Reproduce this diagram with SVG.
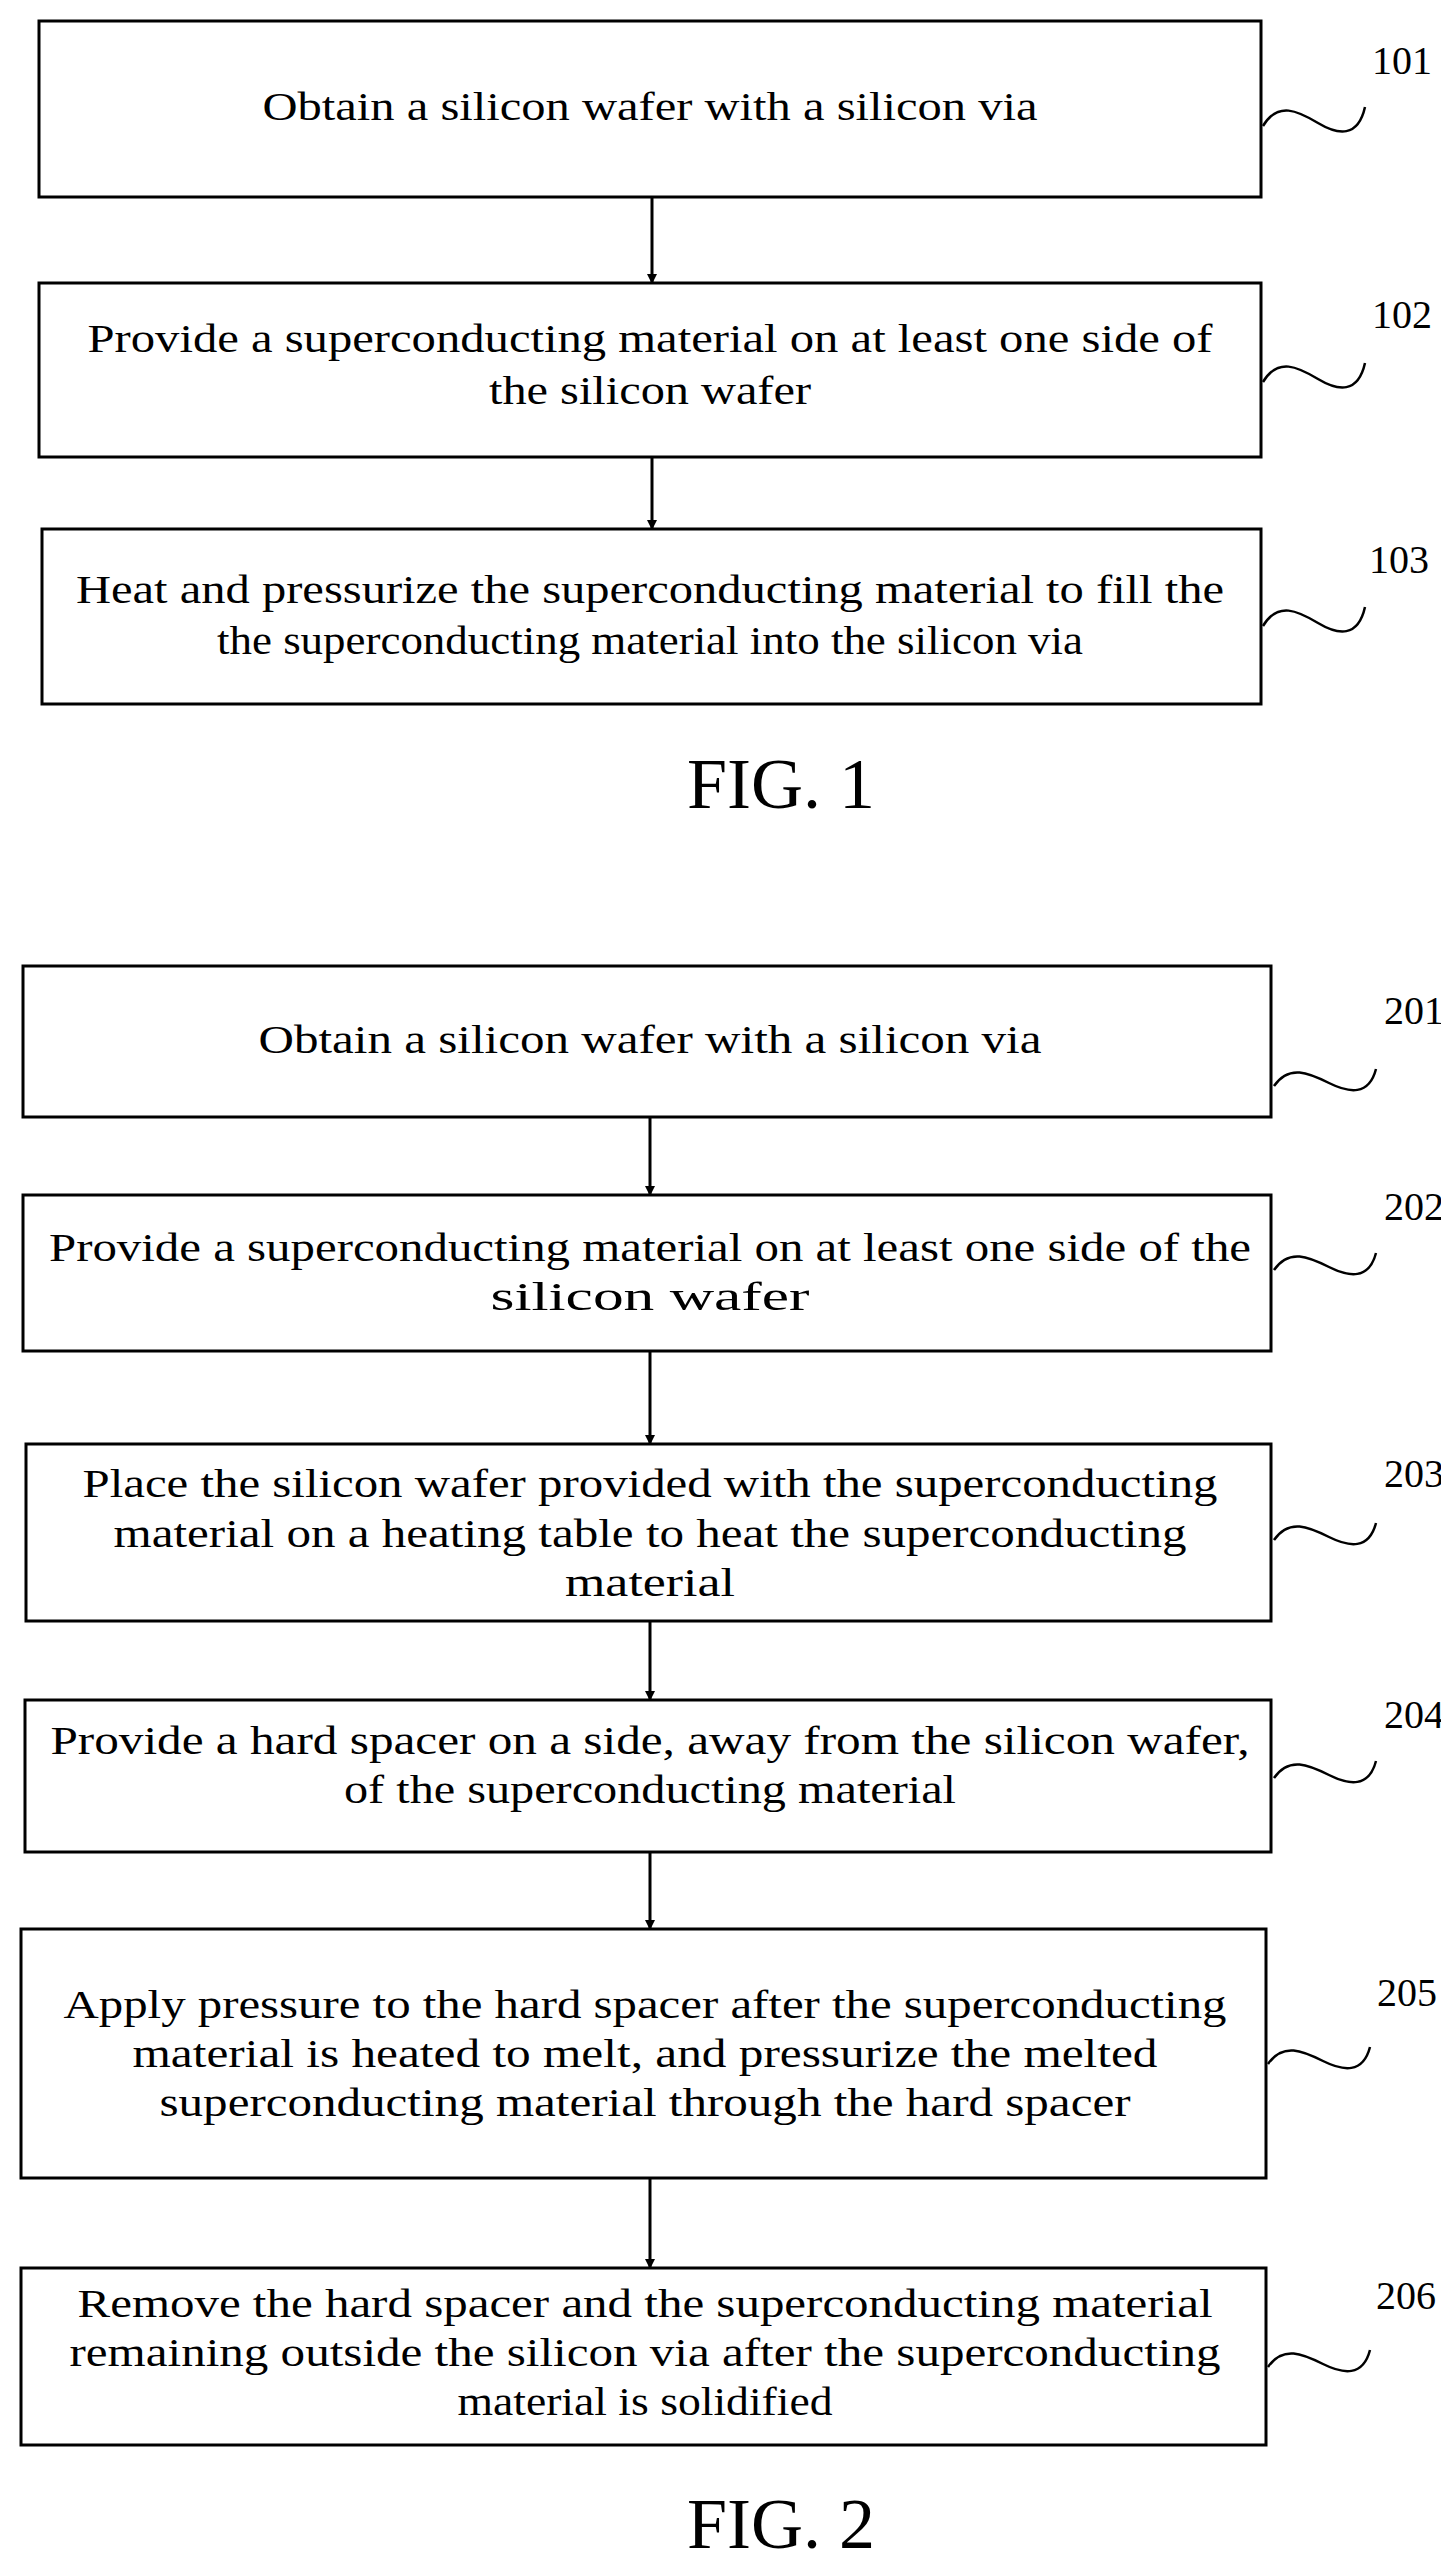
<svg xmlns="http://www.w3.org/2000/svg" width="1441" height="2570" viewBox="0 0 1441 2570">
<style>
.b{fill:#fff;stroke:#000;stroke-width:3}
.t{font-family:"Liberation Serif",serif;font-size:40px;text-anchor:middle;fill:#000}
.l{font-family:"Liberation Serif",serif;font-size:40px;fill:#000}
.f{font-family:"Liberation Serif",serif;font-size:72px;text-anchor:middle;fill:#000}
.s{fill:none;stroke:#000;stroke-width:2.5}
.a{stroke:#000;stroke-width:3;marker-end:url(#ah)}
</style>
<defs><marker id="ah" markerWidth="10" markerHeight="10" refX="9" refY="5" orient="auto" markerUnits="userSpaceOnUse" viewBox="0 0 10 10"><path d="M0,0 L10,5 L0,10 z"/></marker></defs>
<rect width="1441" height="2570" fill="#fff"/>
<g id="connectors">
<line class="a" x1="652" y1="197" x2="652" y2="283"/>
<line class="a" x1="652" y1="457" x2="652" y2="529"/>
<line class="a" x1="650" y1="1117" x2="650" y2="1195"/>
<line class="a" x1="650" y1="1351" x2="650" y2="1444"/>
<line class="a" x1="650" y1="1621" x2="650" y2="1700"/>
<line class="a" x1="650" y1="1852" x2="650" y2="1929"/>
<line class="a" x1="650" y1="2178" x2="650" y2="2268"/>
</g>
<g id="n101"><rect class="b" x="39" y="21" width="1222" height="176"/>
<text class="t" x="650" y="120" textLength="775" lengthAdjust="spacingAndGlyphs">Obtain a silicon wafer with a silicon via</text>
<text class="l" x="1372" y="74">101</text><path class="s" d="M1263,126 c15,-25 35,-15 55,-3 s40,15 47,-16"/></g>
<g id="n102"><rect class="b" x="39" y="283" width="1222" height="174"/>
<text class="t" x="650" y="352" textLength="1125" lengthAdjust="spacingAndGlyphs">Provide a superconducting material on at least one side of</text>
<text class="t" x="650" y="404" textLength="322" lengthAdjust="spacingAndGlyphs">the silicon wafer</text>
<text class="l" x="1372" y="328">102</text><path class="s" d="M1263,382 c15,-25 35,-15 55,-3 s40,15 47,-16"/></g>
<g id="n103"><rect class="b" x="42" y="529" width="1219" height="175"/>
<text class="t" x="650" y="603" textLength="1148" lengthAdjust="spacingAndGlyphs">Heat and pressurize the superconducting material to fill the</text>
<text class="t" x="650" y="654" textLength="866" lengthAdjust="spacingAndGlyphs">the superconducting material into the silicon via</text>
<text class="l" x="1369" y="573">103</text><path class="s" d="M1263,626 c15,-25 35,-15 55,-3 s40,15 47,-16"/></g>
<text class="f" x="781" y="808">FIG. 1</text>
<g id="n201"><rect class="b" x="23" y="966" width="1248" height="151"/>
<text class="t" x="650" y="1053" textLength="783" lengthAdjust="spacingAndGlyphs">Obtain a silicon wafer with a silicon via</text>
<text class="l" x="1384" y="1024">201</text><path class="s" d="M1274,1086 c15,-22 35,-13 55,-3 s40,13 47,-14"/></g>
<g id="n202"><rect class="b" x="23" y="1195" width="1248" height="156"/>
<text class="t" x="650" y="1261" textLength="1202" lengthAdjust="spacingAndGlyphs">Provide a superconducting material on at least one side of the</text>
<text class="t" x="650" y="1310" textLength="319" lengthAdjust="spacingAndGlyphs">silicon wafer</text>
<text class="l" x="1384" y="1220">202</text><path class="s" d="M1274,1270 c15,-22 35,-13 55,-3 s40,13 47,-14"/></g>
<g id="n203"><rect class="b" x="26" y="1444" width="1245" height="177"/>
<text class="t" x="650" y="1497" textLength="1135" lengthAdjust="spacingAndGlyphs">Place the silicon wafer provided with the superconducting</text>
<text class="t" x="650" y="1547" textLength="1073" lengthAdjust="spacingAndGlyphs">material on a heating table to heat the superconducting</text>
<text class="t" x="650" y="1596" textLength="170" lengthAdjust="spacingAndGlyphs">material</text>
<text class="l" x="1384" y="1487">203</text><path class="s" d="M1274,1540 c15,-22 35,-13 55,-3 s40,13 47,-14"/></g>
<g id="n204"><rect class="b" x="25" y="1700" width="1246" height="152"/>
<text class="t" x="650" y="1754" textLength="1199" lengthAdjust="spacingAndGlyphs">Provide a hard spacer on a side, away from the silicon wafer,</text>
<text class="t" x="650" y="1803" textLength="612" lengthAdjust="spacingAndGlyphs">of the superconducting material</text>
<text class="l" x="1384" y="1728">204</text><path class="s" d="M1274,1778 c15,-22 35,-13 55,-3 s40,13 47,-14"/></g>
<g id="n205"><rect class="b" x="21" y="1929" width="1245" height="249"/>
<text class="t" x="645" y="2018" textLength="1163" lengthAdjust="spacingAndGlyphs">Apply pressure to the hard spacer after the superconducting</text>
<text class="t" x="645" y="2067" textLength="1025" lengthAdjust="spacingAndGlyphs">material is heated to melt, and pressurize the melted</text>
<text class="t" x="645" y="2116" textLength="971" lengthAdjust="spacingAndGlyphs">superconducting material through the hard spacer</text>
<text class="l" x="1377" y="2006">205</text><path class="s" d="M1268,2064 c15,-22 35,-13 55,-3 s40,13 47,-14"/></g>
<g id="n206"><rect class="b" x="21" y="2268" width="1245" height="177"/>
<text class="t" x="645" y="2317" textLength="1135" lengthAdjust="spacingAndGlyphs">Remove the hard spacer and the superconducting material</text>
<text class="t" x="645" y="2366" textLength="1151" lengthAdjust="spacingAndGlyphs">remaining outside the silicon via after the superconducting</text>
<text class="t" x="645" y="2415" textLength="375" lengthAdjust="spacingAndGlyphs">material is solidified</text>
<text class="l" x="1376" y="2309">206</text><path class="s" d="M1268,2367 c15,-22 35,-13 55,-3 s40,13 47,-14"/></g>
<text class="f" x="781" y="2548">FIG. 2</text>
</svg>
